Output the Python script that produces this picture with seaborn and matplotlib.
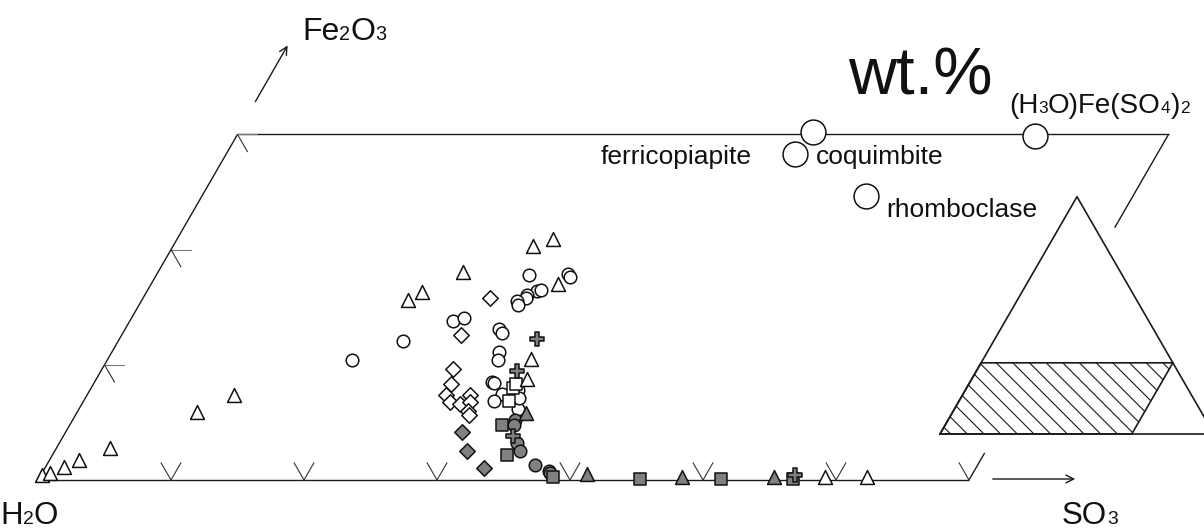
import numpy as np
import pandas as pd
import matplotlib
matplotlib.use("Agg")
import matplotlib.pyplot as plt
import seaborn as sns
from matplotlib.patches import Polygon
from matplotlib.offsetbox import TextArea, HPacker, AnnotationBbox

sns.set_theme(style="white")
plt.rcParams["font.family"] = ["Liberation Sans", "DejaVu Sans"]
plt.rcParams["hatch.linewidth"] = 0.8

# ---- sample compositions, wt.% (SO3, Fe2O3); H2O is the remainder ----
open_tri_so3 = [0.1, 0.6, 1.4, 2.2, 4.0, 9.0, 11.0, 20.0, 20.7, 22.9, 27.1, 28.3, 30.6, 31.8, 32.4, 59.0, 62.2]
open_tri_fe = [0.4, 0.6, 1.1, 1.7, 2.8, 5.9, 7.4, 15.6, 16.3, 18.1, 20.3, 20.9, 17.0, 10.5, 8.8, 0.3, 0.3]

open_cir_so3 = [18.4, 21.4, 24.3, 25.0, 28.1, 28.5, 29.1, 29.4, 28.0, 30.9, 31.2, 29.3, 29.6, 28.7, 28.8, 28.3,
                28.5, 29.9, 30.1, 31.1, 30.8, 32.2, 33.0, 32.6]
open_cir_fe = [10.4, 12.1, 13.8, 14.1, 13.1, 12.8, 11.1, 10.4, 17.8, 17.9, 17.6, 16.4, 16.5, 16.1, 15.8, 15.5,
               15.2, 8.5, 8.4, 7.5, 6.9, 7.8, 6.2, 7.1]

open_dia_so3 = [26.1, 25.5, 26.4, 26.9, 27.0, 27.6, 28.4, 28.8, 29.1, 29.3, 29.6]
open_dia_fe = [15.8, 12.6, 9.6, 8.3, 7.4, 6.8, 6.6, 7.4, 6.8, 6.0, 5.6]

open_sq_so3 = [31.7, 31.8, 32.0]
open_sq_fe = [8.0, 8.3, 6.9]

grey_cir_so3 = [33.3, 33.4, 34.4, 35.0, 36.7, 38.0, 38.2]
grey_cir_fe = [5.2, 4.8, 3.2, 2.5, 1.3, 0.8, 0.6]

grey_sq_so3 = [32.5, 34.2, 38.6, 45.2, 51.3, 56.7]
grey_sq_fe = [4.8, 2.2, 0.3, 0.1, 0.1, 0.1]

grey_dia_so3 = [29.8, 31.0, 33.0]
grey_dia_fe = [4.2, 2.5, 1.0]

grey_tri_so3 = [33.8, 41.0, 48.3, 55.2]
grey_tri_fe = [5.8, 0.5, 0.3, 0.3]

grey_plus_so3 = [31.4, 31.3, 33.8, 56.7]
grey_plus_fe = [12.2, 9.5, 3.8, 0.4]

# reference minerals
mineral_names = ["ferricopiapite", "coquimbite", "rhomboclase", "(H3O)Fe(SO4)2"]
mineral_so3 = [43.2, 42.8, 49.9, 60.0]
mineral_fe = [30.2, 28.3, 24.7, 29.9]

# diagram extent and tick spacing (wt.%)
SO3_MAX, FE_MAX, TICK_STEP = 70, 30, 10

SQ3 = np.sqrt(3) / 2
PX = 13.3          # pixels per wt.%
X0, Y0 = 38, 480   # pixel position of the H2O corner


def to_xy(so3, fe):
    so3 = np.asarray(so3, float)
    fe = np.asarray(fe, float)
    return so3 + fe / 2, fe * SQ3


def px(x, y):
    """pixel position (from top-left) -> data coordinates"""
    return (x - X0) / PX, (Y0 - y) / PX


fig = plt.figure(figsize=(12.04, 5.31), dpi=100)
ax = fig.add_axes([0, 0, 1, 1])
ax.set_xlim(px(0, 0)[0], px(1204, 0)[0])
ax.set_ylim(px(0, 531)[1], px(0, 0)[1])
ax.axis("off")

EDGE = "#1a1a1a"
lw_frame = 1.0

# frame of the diagram (right edge interrupted by the inset)
segments = [((0, 0), (SO3_MAX, 0)), ((0, FE_MAX), (SO3_MAX, FE_MAX)), ((0, 0), (0, FE_MAX)),
            ((SO3_MAX, 0), (SO3_MAX, 2.35)), ((SO3_MAX, 21.9), (SO3_MAX, FE_MAX))]
for (s0, f0), (s1, f1) in segments:
    x, y = to_xy([s0, s1], [f0, f1])
    ax.plot(x, y, color=EDGE, lw=lw_frame, solid_capstyle="butt")

# ternary ticks
tl = 1.5
for s in range(TICK_STEP, SO3_MAX + 1, TICK_STEP):
    x, y = to_xy([s, s - tl], [0, tl])
    ax.plot(x, y, color="#333333", lw=0.8)
    if s < SO3_MAX:
        x, y = to_xy([s, s], [0, tl])
        ax.plot(x, y, color="#333333", lw=0.8)
for f in range(TICK_STEP, FE_MAX + 1, TICK_STEP):
    x, y = to_xy([0, tl], [f, f])
    ax.plot(x, y, color="#777777", lw=0.8)
    x, y = to_xy([0, tl], [f, f - tl])
    ax.plot(x, y, color="#333333", lw=0.8)

# sample points
groups = [
    (open_dia_so3, open_dia_fe, "D", 62, "white"),
    (open_cir_so3, open_cir_fe, "o", 82, "white"),
    (open_sq_so3, open_sq_fe, "s", 72, "white"),
    (open_tri_so3, open_tri_fe, "^", 100, "white"),
    (grey_dia_so3, grey_dia_fe, "D", 62, "#808080"),
    (grey_cir_so3, grey_cir_fe, "o", 82, "#808080"),
    (grey_sq_so3, grey_sq_fe, "s", 72, "#808080"),
    (grey_tri_so3, grey_tri_fe, "^", 100, "#808080"),
    (grey_plus_so3, grey_plus_fe, "P", 115, "#808080"),
]
for so3, fe, mk, size, fill in groups:
    x, y = to_xy(so3, fe)
    df = pd.DataFrame({"x": x, "y": y})
    sns.scatterplot(data=df, x="x", y="y", marker=mk, s=size, color=fill,
                    edgecolor="#111111", linewidth=1.1, ax=ax, legend=False, zorder=3)

# reference minerals
mx, my = to_xy(mineral_so3, mineral_fe)
sns.scatterplot(x=mx, y=my, marker="o", s=320, color="white", edgecolor="#111111",
                linewidth=1.1, ax=ax, legend=False, zorder=4)

TXT = "#111111"
ax.text(*px(752, 164), "ferricopiapite", fontsize=19, ha="right", va="baseline", color=TXT)
ax.text(*px(816, 164), "coquimbite", fontsize=19, ha="left", va="baseline", color=TXT)
ax.text(*px(886, 217), "rhomboclase", fontsize=19, ha="left", va="baseline", color=TXT)


def chem_label(parts, x, y, size):
    children = [TextArea(t, textprops=dict(fontsize=size * (0.62 if sub else 1.0), color=TXT))
                for t, sub in parts]
    box = HPacker(children=children, align="baseline", pad=0, sep=0)
    ab = AnnotationBbox(box, px(x, y), xycoords="data", box_alignment=(0, 0),
                        frameon=False, pad=0, annotation_clip=False)
    ax.add_artist(ab)


chem_label([("(H", 0), ("3", 1), ("O)Fe(SO", 0), ("4", 1), (")", 0), ("2", 1)], 1009, 119, 20)
chem_label([("Fe", 0), ("2", 1), ("O", 0), ("3", 1)], 302, 47, 23)
chem_label([("H", 0), ("2", 1), ("O", 0)], 0, 531, 22.5)
chem_label([("SO", 0), ("3", 1)], 1062, 531, 22.5)

ax.text(*px(848, 94), "wt.%", fontsize=48, ha="left", va="baseline", color=TXT,
        family=["Liberation Sans Narrow", "Liberation Sans"])

# axis arrows
ax.annotate("", xy=px(289, 43), xytext=px(254, 104),
            arrowprops=dict(arrowstyle="->", color=EDGE, lw=1.0, mutation_scale=14))
ax.annotate("", xy=px(1078, 479), xytext=px(990, 479),
            arrowprops=dict(arrowstyle="->", color=EDGE, lw=1.0, mutation_scale=14))

# inset: whole ternary with the plotted field hatched
INSET_ORIGIN = px(940, 434)
INSET_SCALE = 0.206


def inset_xy(so3, fe):
    x, y = to_xy(so3, fe)
    return INSET_ORIGIN[0] + INSET_SCALE * x, INSET_ORIGIN[1] + INSET_SCALE * y


tx, ty = inset_xy([0, 100, 0, 0], [0, 0, 100, 0])
ax.plot(tx, ty, color=EDGE, lw=1.2)
hx, hy = inset_xy([0, SO3_MAX, SO3_MAX, 0], [0, 0, FE_MAX, FE_MAX])
ax.add_patch(Polygon(np.column_stack([hx, hy]), closed=True, fill=False, hatch="\\\\",
                     edgecolor=EDGE, lw=1.2))

fig.savefig("out.png", dpi=100)
